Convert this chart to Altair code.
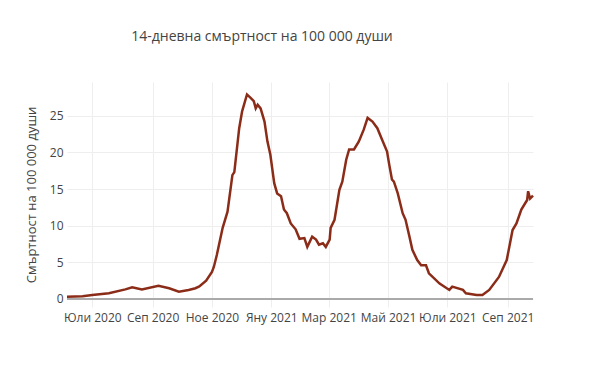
import altair as alt
import pandas as pd

dates = [
    "2020-06-05", "2020-06-21", "2020-07-01", "2020-07-18", "2020-08-04", "2020-08-11",
    "2020-08-21", "2020-09-07", "2020-09-18", "2020-09-28", "2020-10-08", "2020-10-15",
    "2020-10-19", "2020-10-26", "2020-11-01", "2020-11-03", "2020-11-06", "2020-11-12",
    "2020-11-17", "2020-11-22", "2020-11-24", "2020-11-29", "2020-12-02", "2020-12-07",
    "2020-12-11", "2020-12-14", "2020-12-16", "2020-12-18", "2020-12-21", "2020-12-25",
    "2020-12-28", "2020-12-31", "2021-01-04", "2021-01-07", "2021-01-11", "2021-01-14",
    "2021-01-17", "2021-01-21", "2021-01-26", "2021-01-30", "2021-02-04", "2021-02-07",
    "2021-02-12", "2021-02-16", "2021-02-19", "2021-02-23", "2021-02-26", "2021-03-02",
    "2021-03-03", "2021-03-07", "2021-03-12", "2021-03-15", "2021-03-19", "2021-03-22",
    "2021-03-27", "2021-04-01", "2021-04-06", "2021-04-10", "2021-04-15", "2021-04-20",
    "2021-04-25", "2021-04-30", "2021-05-02", "2021-05-05", "2021-05-07", "2021-05-11",
    "2021-05-16", "2021-05-19", "2021-05-23", "2021-05-26", "2021-05-31", "2021-06-04",
    "2021-06-09", "2021-06-12", "2021-06-23", "2021-07-03", "2021-07-06", "2021-07-17",
    "2021-07-20", "2021-07-31", "2021-08-06", "2021-08-13", "2021-08-23", "2021-08-31",
    "2021-09-06", "2021-09-10", "2021-09-15", "2021-09-21", "2021-09-22", "2021-09-24",
    "2021-09-27",
]
values = [
    0.3, 0.37, 0.55, 0.78, 1.3, 1.6,
    1.3, 1.78, 1.46, 1.0, 1.23, 1.46,
    1.7, 2.5, 3.7, 4.4, 6.0, 9.7,
    11.9, 16.9, 17.3, 23.3, 25.6, 27.9,
    27.4, 27.0, 26.0, 26.5, 26.0, 24.2,
    21.5, 19.7, 15.8, 14.4, 14.0, 12.2,
    11.7, 10.3, 9.5, 8.2, 8.3, 7.1,
    8.5, 8.1, 7.4, 7.6, 7.1, 8.1,
    9.7, 10.8, 14.9, 16.0, 19.0, 20.4,
    20.4, 21.5, 23.1, 24.7, 24.2, 23.3,
    21.7, 20.1, 18.5, 16.3, 16.0, 14.4,
    11.7, 10.8, 8.5, 6.7, 5.3, 4.6,
    4.6, 3.5, 2.1, 1.23, 1.68, 1.23,
    0.78, 0.55, 0.55, 1.23, 3.0, 5.3,
    9.4, 10.3, 12.2, 13.5, 14.7, 13.7,
    14.1,
]
tick_dates = ["2020-07-01", "2020-09-01", "2020-11-01", "2021-01-01",
              "2021-03-01", "2021-05-01", "2021-07-01", "2021-09-01"]
month_names = ["Яну", "Фев", "Мар", "Апр", "Май", "Юни",
               "Юли", "Авг", "Сеп", "Окт", "Ное", "Дек"]
y_ticks = [0, 5, 10, 15, 20, 25]

df = pd.DataFrame({"date": dates, "value": values})

FONT = "Open Sans"
TXT = "#444444"

tick_vals = [alt.DateTime(year=int(d[:4]), month=int(d[5:7]), date=int(d[8:10]), utc=True)
             for d in tick_dates]
month_arr = "[" + ",".join("'" + m + "'" for m in month_names) + "]"

x_enc = alt.X(
    "date:T",
    scale=alt.Scale(type="utc", domain=[
        alt.DateTime(year=2020, month=6, date=5, utc=True),
        alt.DateTime(year=2021, month=9, date=27, utc=True)], nice=False),
    axis=alt.Axis(
        values=tick_vals,
        labelExpr=month_arr + "[utcmonth(datum.value)] + ' ' + utcyear(datum.value)",
        title=None, domain=False, ticks=False, grid=True, gridColor="#eeeeee",
        labelFont=FONT, labelFontSize=12, labelColor=TXT, labelPadding=5,
        labelOverlap=False, labelFlush=False,
    ),
)
y_enc = alt.Y(
    "value:Q",
    scale=alt.Scale(domain=[-1.1, 29.6], nice=False, zero=False),
    axis=alt.Axis(
        values=y_ticks, title="Смъртност на 100 000 души",
        titleFont=FONT, titleFontSize=13, titleFontWeight="normal", titleColor=TXT,
        titlePadding=11,
        domain=False, ticks=False, grid=True, gridColor="#eeeeee",
        labelFont=FONT, labelFontSize=12, labelColor=TXT, labelPadding=4,
    ),
)

line = alt.Chart(df).mark_line(color="#8b2c18", strokeWidth=2.5).encode(x=x_enc, y=y_enc)

zero = alt.Chart(pd.DataFrame({"z": [0]})).mark_rule(color="#aaaaaa", strokeWidth=2).encode(
    y=alt.Y("z:Q", scale=alt.Scale(domain=[-1.1, 29.6], nice=False, zero=False))
)

chart = alt.layer(zero, line).properties(
    width=466, height=225,
    background="white",
    title=alt.TitleParams(
        "14-дневна смъртност на 100 000 души",
        font=FONT, fontSize=14, fontWeight="normal", color=TXT,
        anchor="middle", dx=-38, offset=38,
    ),
    padding={"left": 67, "top": 82, "right": 67, "bottom": 68},
    autosize=alt.AutoSizeParams(type="none"),
).configure_view(stroke=None)

chart.save("out.html", embed_options={"renderer": "svg", "actions": False})
